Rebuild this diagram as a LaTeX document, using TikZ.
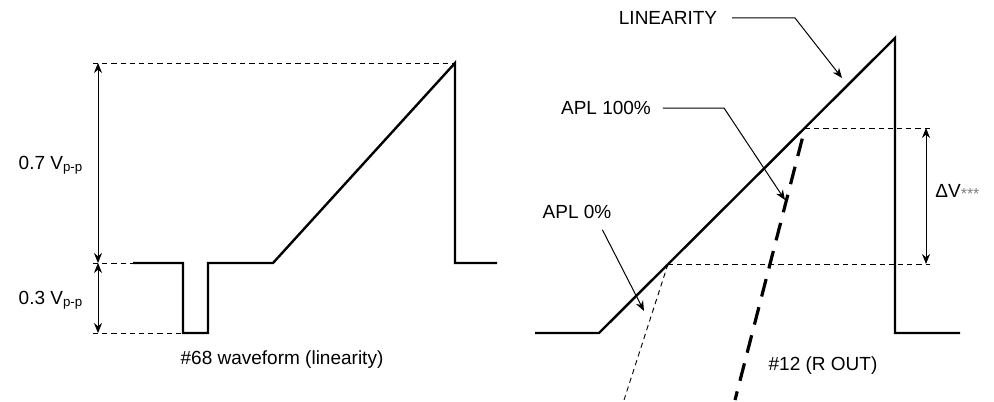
\documentclass[tikz,border=0pt]{standalone}
\usepackage{fontspec}
\setmainfont{Liberation Sans}
\usetikzlibrary{arrows.meta}
\begin{document}
\begin{tikzpicture}[>={Stealth[length=5pt,width=4pt]},line join=miter,x=0.5pt,y=-0.5pt,
    font=\fontsize{9.5}{11}\selectfont,
    wave/.style={line width=1.2pt},
    guide/.style={line width=0.45pt,dash pattern=on 2.6pt off 2pt},
    rout/.style={line width=1.6pt,dash pattern=on 9pt off 5.5pt,dash phase=9pt},
    dim/.style={<->,line width=0.5pt},
    lead/.style={->,line width=0.5pt}]
    \useasboundingbox (0,0) rectangle (994,401);
    \draw[wave] (133,263)--(183,263)--(183,333)--(208,333)--(208,263)--(273,263)--(455,63)--(455,263)--(497,263);
    \draw[guide] (93,63)--(455,63);
    \draw[guide] (93,263)--(133,263);
    \draw[guide] (93,333)--(183,333);
    \draw[dim] (98,63)--(98,263);
    \draw[dim] (98,263)--(98,333);
    \node (v07) at (51,165) {0.7 V\textsubscript{p-p}};
    \node (v03) at (51,300) {0.3 V\textsubscript{p-p}};
    \node (wave68) at (282,360) {\#68 waveform (linearity)};
    \draw[wave] (535,333)--(599,333)--(895,38)--(895,333)--(960,333);
    \coordinate (lo) at (668,264);
    \coordinate (hi) at (805,128);
    \draw[guide] (lo)--(930,264);
    \draw[guide] (hi)--(930,128);
    \draw[guide] (lo)--(624,400);
    \draw[rout] (hi)--(735,400);
    \draw[dim] (926,128)--(926,264);
    \node[anchor=west,inner sep=0pt] (dv) at (935,192) {ΔV\raisebox{-1.2pt}{\fontsize{8}{9}\selectfont\color{gray}***}};
    \node (lin) at (668,18) {LINEARITY};
    \node (apl100) at (606,108) {APL 100\%};
    \node (apl0) at (577,212) {APL 0\%};
    \node (r12) at (823,366) {\#12 (R OUT)};
    \coordinate (linTip) at (842,78);
    \coordinate (hundredTip) at (785,200);
    \coordinate (zeroTip) at (644,311);
    \draw[lead] ([xshift=4pt]lin.east)--(795,18)--(linTip);
    \draw[lead] ([xshift=2.5pt]apl100.east)--(724,108)--(hundredTip);
    \draw[lead] ([xshift=-8pt,yshift=-2pt]apl0.south east)--(zeroTip);
\end{tikzpicture}
\end{document}
